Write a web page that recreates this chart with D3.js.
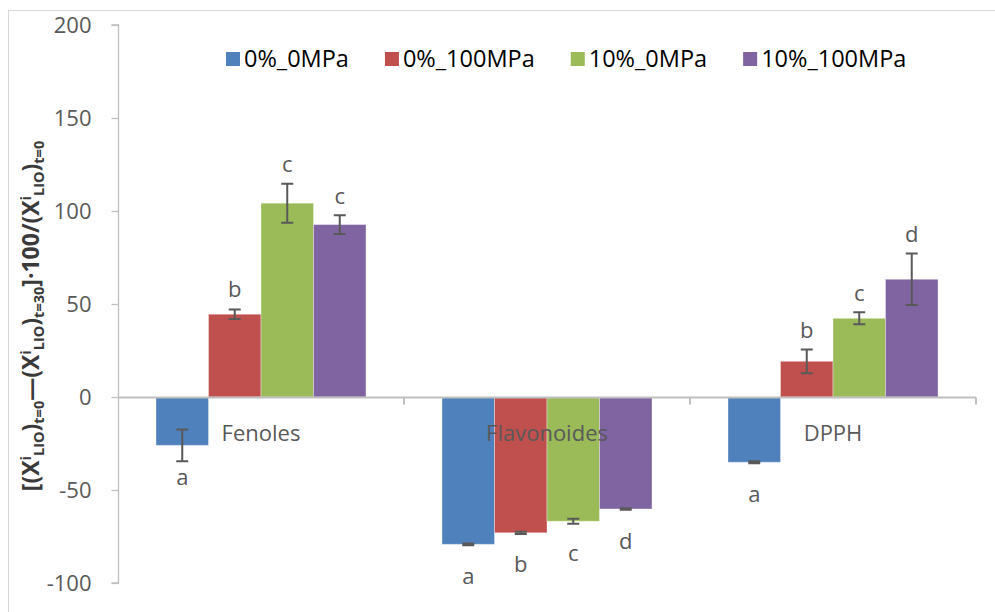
<!DOCTYPE html>
<html>
<head>
<meta charset="utf-8">
<script src="https://cdn.jsdelivr.net/npm/d3@7"></script>
<style>
  html, body { margin: 0; padding: 0; background: #fff; }
  svg { display: block; }
  text { font-family: "Open Sans", Lato, sans-serif; }
</style>
</head>
<body>
<svg id="chart" width="995" height="612"></svg>
<script>
// Categories and series
const categories = ["Fenoles", "Flavonoides", "DPPH"];
const seriesNames = ["0%_0MPa", "0%_100MPa", "10%_0MPa", "10%_100MPa"];
const seriesColors = ["#4F81BD", "#C0504D", "#9BBB59", "#8064A2"];

// Mean values per series (one entry per category)
const val_0_0 = [-26, -79.2, -35.1];
const val_0_100 = [44.5, -73, 19.2];
const val_10_0 = [104.2, -66.8, 42.3];
const val_10_100 = [92.7, -60.2, 63.3];

// Error (± half range) per series
const err_0_0 = [8.5, 0.5, 0.5];
const err_0_100 = [2.5, 0.6, 6.4];
const err_10_0 = [10.5, 1.3, 3.2];
const err_10_100 = [5, 0.4, 13.8];

// Significance letters per series
const let_0_0 = ["a", "a", "a"];
const let_0_100 = ["b", "b", "b"];
const let_10_0 = ["c", "c", "c"];
const let_10_100 = ["c", "d", "d"];

const yTicks = [-100, -50, 0, 50, 100, 150, 200];

const allVals = [val_0_0, val_0_100, val_10_0, val_10_100];
const allErrs = [err_0_0, err_0_100, err_10_0, err_10_100];
const allLets = [let_0_0, let_0_100, let_10_0, let_10_100];

const records = [];
categories.forEach((c, ci) => {
  seriesNames.forEach((s, si) => {
    records.push({ cat: c, series: s, si, value: allVals[si][ci], err: allErrs[si][ci], letter: allLets[si][ci] });
  });
});

const svg = d3.select("#chart");
const grey = "#595959";
const axisGrey = "#BFBFBF";

// outer chart frame
svg.append("rect")
  .attr("x", 8.5).attr("y", 10.5)
  .attr("width", 1100).attr("height", 800)
  .attr("fill", "none").attr("stroke", "#D9D9D9").attr("stroke-width", 1);

const plotLeft = 118, plotRight = 976, plotTop = 25, plotBottom = 583;

const y = d3.scaleLinear().domain([-100, 200]).range([plotBottom, plotTop]);
const x0 = d3.scaleBand().domain(categories).range([plotLeft, plotRight]).paddingInner(0).paddingOuter(0);
const x1 = d3.scaleBand().domain(seriesNames).range([0, x0.bandwidth()]).paddingInner(0).paddingOuter(0.724);

// y axis
const yAxis = d3.axisLeft(y).tickValues(yTicks).tickSize(7).tickPadding(20).tickFormat(d => String(d));
const gy = svg.append("g").attr("transform", `translate(${plotLeft + 0.5},0)`).call(yAxis);
gy.select(".domain").attr("stroke", axisGrey).attr("stroke-width", 1.3).attr("d", `M-7,${y(200)}H0V${y(-100)}H-7`);
gy.selectAll(".tick line").attr("stroke", axisGrey).attr("stroke-width", 1.3);
gy.selectAll(".tick text").attr("fill", grey).attr("font-size", 22).attr("font-family", "'Open Sans', sans-serif");

// bars
const gBars = svg.append("g");
gBars.selectAll("rect").data(records).join("rect")
  .attr("x", d => x0(d.cat) + x1(d.series))
  .attr("width", x1.bandwidth())
  .attr("y", d => y(Math.max(0, d.value)))
  .attr("height", d => Math.abs(y(d.value) - y(0)))
  .attr("fill", d => seriesColors[d.si])
  .attr("stroke", "#ffffff").attr("stroke-opacity", 0.35).attr("stroke-width", 1);

// zero axis line with category boundary ticks
const zeroY = Math.round(y(0)) + 0.5;
svg.append("line")
  .attr("x1", plotLeft).attr("x2", plotRight)
  .attr("y1", zeroY).attr("y2", zeroY)
  .attr("stroke", axisGrey).attr("stroke-width", 2);
const bounds = categories.map(c => x0(c) + x0.bandwidth());
svg.selectAll("line.ctick").data(bounds).join("line").attr("class", "ctick")
  .attr("x1", d => d).attr("x2", d => d)
  .attr("y1", zeroY).attr("y2", zeroY + 7)
  .attr("stroke", axisGrey).attr("stroke-width", 2);

// category labels
svg.selectAll("text.cat").data(categories).join("text").attr("class", "cat")
  .attr("x", d => x0(d) + x0.bandwidth() / 2)
  .attr("y", zeroY + 43)
  .attr("text-anchor", "middle")
  .attr("fill", grey).attr("font-size", 22)
  .text(d => d);

// error bars
const gErr = svg.append("g").attr("stroke", grey).attr("stroke-width", 2).attr("fill", "none");
const capW = 6;
records.forEach(d => {
  const cx = x0(d.cat) + x1(d.series) + x1.bandwidth() / 2;
  const yh = y(d.value + d.err), yl = y(d.value - d.err);
  gErr.append("path").attr("d", `M${cx},${yh}V${yl}M${cx - capW},${yh}H${cx + capW}M${cx - capW},${yl}H${cx + capW}`);
});

// significance letters
svg.selectAll("text.sig").data(records).join("text").attr("class", "sig")
  .attr("x", d => x0(d.cat) + x1(d.series) + x1.bandwidth() / 2)
  .attr("y", d => d.value < 0
      ? y(d.value) + 32
      : Math.min(y(d.value) - 25, y(d.value + d.err) - 19))
  .attr("dy", "0.35em")
  .attr("text-anchor", "middle")
  .attr("fill", grey).attr("font-size", 22)
  .text(d => d.letter);

// legend
const legend = svg.append("g").attr("transform", "translate(226,59)");
let lx = 0;
seriesNames.forEach((s, i) => {
  const g = legend.append("g").attr("transform", `translate(${lx},0)`);
  g.append("rect").attr("x", 0).attr("y", -7).attr("width", 14).attr("height", 14).attr("fill", seriesColors[i]);
  const t = g.append("text").attr("x", 18).attr("y", 0).attr("dy", "0.35em")
    .attr("fill", "#000").attr("font-size", 23.5).text(s);
  lx += 18 + t.node().getComputedTextLength() + 36;
});

// y axis title with sub/superscripts
const title = svg.append("text")
  .attr("transform", "translate(39,316) rotate(-90)")
  .attr("text-anchor", "middle")
  .attr("font-size", 23).attr("font-weight", "bold").attr("fill", "#3a3a3a")
  .attr("font-family", "'Open Sans', sans-serif");
const parts = [
  ["[(X", 0], ["i", 1], ["LIO", -1], [")", 0], ["t=0", -1],
  ["\u2014(X", 0], ["i", 1], ["LIO", -1], [")", 0], ["t=30", -1],
  ["]\u00B7100/(X", 0], ["i", 1], ["LIO", -1], [")", 0], ["t=0", -1]
];
let cur = 0;
parts.forEach(([txt, lvl]) => {
  const target = lvl === 1 ? -8 : lvl === -1 ? 5 : 0;
  title.append("tspan")
    .attr("dy", target - cur)
    .attr("font-size", lvl === 0 ? 23 : 14.5)
    .text(txt);
  cur = target;
});
</script>
</body>
</html>
